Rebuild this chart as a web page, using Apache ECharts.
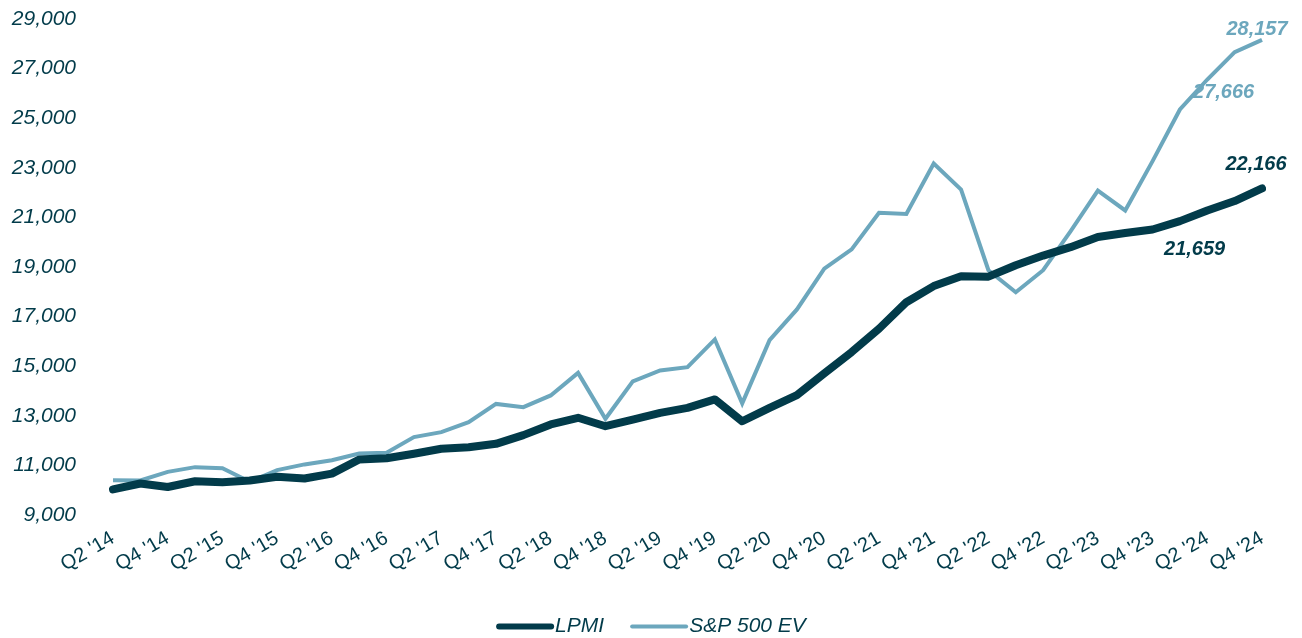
<!DOCTYPE html>
<html>
<head>
<meta charset="utf-8">
<script src="https://cdn.jsdelivr.net/npm/echarts@6/dist/echarts.min.js"></script>
<style>
html,body{margin:0;padding:0;background:#fff;}
#chart{width:1302px;height:638px;}
</style>
</head>
<body>
<div id="chart"></div>
<script>
const categories = [
 "Q2 '14","Q3 '14","Q4 '14",
 "Q1 '15","Q2 '15","Q3 '15","Q4 '15",
 "Q1 '16","Q2 '16","Q3 '16","Q4 '16",
 "Q1 '17","Q2 '17","Q3 '17","Q4 '17",
 "Q1 '18","Q2 '18","Q3 '18","Q4 '18",
 "Q1 '19","Q2 '19","Q3 '19","Q4 '19",
 "Q1 '20","Q2 '20","Q3 '20","Q4 '20",
 "Q1 '21","Q2 '21","Q3 '21","Q4 '21",
 "Q1 '22","Q2 '22","Q3 '22","Q4 '22",
 "Q1 '23","Q2 '23","Q3 '23","Q4 '23",
 "Q1 '24","Q2 '24","Q3 '24","Q4 '24"
];
const lpmi = [
 10030,10270,10130,10360,10320,10390,10540,10470,10670,11240,11290,11470,
 11670,11730,11870,12220,12650,12920,12580,12850,13120,13320,13660,12780,
 13320,13830,14710,15570,16510,17580,18230,18630,18610,19070,19460,19800,
 20210,20370,20510,20850,21280,21659,22166
];
const sp500 = [
 10400,10390,10740,10930,10890,10340,10810,11040,11210,11480,11510,12140,
 12340,12740,13480,13350,13820,14730,12880,14390,14830,14960,16080,13500,
 16050,17290,18930,19710,21190,21140,23170,22120,18870,17980,18870,20440,
 22080,21280,23270,25350,26560,27666,28157
];
const yTicks = {min: 9000, max: 29000, interval: 2000};
const seriesNames = ["LPMI", "S&P 500 EV"];

const darkC = '#023b4a';
const lightC = '#6ca7bd';
const fmt = v => v.toLocaleString('en-US');

function withLabels(arr, cfg){
  return arr.map((v,i)=>{
    if(cfg[i]) return {value:v, label:Object.assign({show:true, formatter: p=>fmt(p.value)}, cfg[i])};
    return v;
  });
}
const FF = 'Liberation Sans, Arial, sans-serif';
const last = categories.length-1;
const lpmiCfg = {};
lpmiCfg[last] = {position:'top', offset:[-6,-9], color:darkC, fontSize:20, fontWeight:'bold', fontStyle:'italic', fontFamily:FF};
lpmiCfg[last-1] = {position:'bottom', offset:[-40,33], color:darkC, fontSize:20, fontWeight:'bold', fontStyle:'italic', fontFamily:FF};
const spCfg = {};
spCfg[last] = {position:'top', offset:[-5,5], color:lightC, fontSize:20, fontWeight:'bold', fontStyle:'italic', fontFamily:FF};
spCfg[last-1] = {position:'bottom', offset:[-11,25], color:lightC, fontSize:20, fontWeight:'bold', fontStyle:'italic', fontFamily:FF};

const chart = echarts.init(document.getElementById('chart'), null, {renderer:'canvas'});
chart.setOption({
  animation:false,
  backgroundColor:'#fff',
  textStyle:{fontFamily:FF},
  grid:{left:113, right:40, top:19, bottom:123, containLabel:false},
  legend:{
    bottom:-4, left:'center',
    itemWidth:58, itemHeight:14, itemGap:26,
    textStyle:{color:darkC, fontSize:21, fontStyle:'italic', padding:[0,0,0,-4]},
    data:[
      {name:seriesNames[0], icon:'path://M3,0 L55,0 A3,3 0 0 1 55,6 L3,6 A3,3 0 0 1 3,0 Z', itemStyle:{color:darkC}},
      {name:seriesNames[1], icon:'path://M2,0 L56,0 A2,2 0 0 1 56,4 L2,4 A2,2 0 0 1 2,0 Z', itemStyle:{color:lightC}}
    ]
  },
  xAxis:{
    type:'category', data:categories, boundaryGap:false,
    axisLine:{show:false}, axisTick:{show:false}, splitLine:{show:false},
    axisLabel:{interval:1, rotate:30, margin:22, color:darkC, fontSize:20, fontStyle:'normal'}
  },
  yAxis:{
    type:'value', min:yTicks.min, max:yTicks.max, interval:yTicks.interval,
    axisLine:{show:false}, axisTick:{show:false}, splitLine:{show:false},
    axisLabel:{margin:37, color:darkC, fontSize:21, fontStyle:'italic', formatter:v=>fmt(v)}
  },
  series:[
    {name:seriesNames[1], type:'line', data:withLabels(sp500, spCfg), symbol:'circle', symbolSize:0.01, showSymbol:true,
     lineStyle:{color:lightC, width:4, join:'miter'}, itemStyle:{color:lightC}, z:2},
    {name:seriesNames[0], type:'line', data:withLabels(lpmi, lpmiCfg), symbol:'circle', symbolSize:0.01, showSymbol:true,
     lineStyle:{color:darkC, width:8, cap:'round', join:'round'}, itemStyle:{color:darkC}, z:3}
  ]
});
</script>
</body>
</html>
